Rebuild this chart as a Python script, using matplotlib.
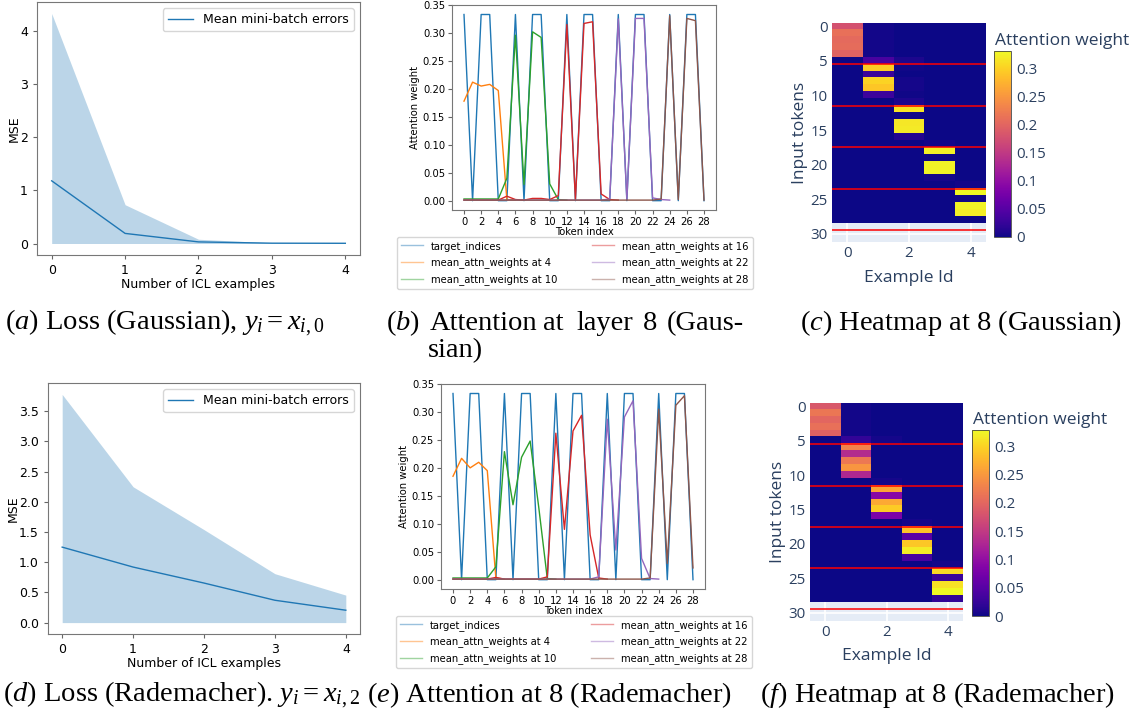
import matplotlib.pyplot as plt
import numpy as np

W, H = 1136, 714

plt.rcParams['mathtext.fontset'] = 'custom'
plt.rcParams['mathtext.rm'] = 'Liberation Serif'
plt.rcParams['mathtext.it'] = 'Liberation Serif:italic'

# ---- loss curves ----
n_icl = [0, 1, 2, 3, 4]
mean_gauss = [1.18, 0.19, 0.03, 0.006, 0.004]
upper_gauss = [4.33, 0.73, 0.08, 0.012, 0.010]
lower_gauss = [0.0, 0.0, 0.0, 0.0, 0.0]
mean_rade = [1.25, 0.92, 0.655, 0.37, 0.205]
upper_rade = [3.78, 2.25, 1.54, 0.81, 0.455]
lower_rade = [0.0, 0.0, 0.0, 0.0, 0.0]

# ---- attention weights (layer 8) ----
target_idx = [0.333, 0, 0.333, 0.333, 0, 0, 0.333, 0, 0.333, 0.333, 0, 0,
              0.333, 0, 0.333, 0.333, 0, 0, 0.333, 0, 0.333, 0.333, 0, 0,
              0.333, 0, 0.333, 0.333, 0]

g_at4 = [0.178, 0.212, 0.205, 0.208, 0.197, 0.002, 0.001]
g_at10 = [0.003, 0.003, 0.003, 0.003, 0.003, 0.040, 0.296, 0.029, 0.302, 0.292,
          0.030, 0.002, 0.001]
g_at16 = [0.001, 0.001, 0.001, 0.001, 0.001, 0.008, 0.002, 0.001, 0.004, 0.004,
          0.002, 0.009, 0.315, 0.002, 0.317, 0.320, 0.012, 0.002, 0.001]
g_at22 = [0.001, 0.001, 0.001, 0.001, 0.001, 0.001, 0.001, 0.001, 0.001, 0.001,
          0.001, 0.001, 0.001, 0.001, 0.001, 0.001, 0.001, 0.003, 0.325, 0.002,
          0.326, 0.326, 0.005, 0.002, 0.001]
g_at28 = [0.001, 0.001, 0.001, 0.001, 0.001, 0.001, 0.001, 0.001, 0.001, 0.001,
          0.001, 0.001, 0.001, 0.001, 0.001, 0.001, 0.001, 0.001, 0.001, 0.001,
          0.001, 0.001, 0.001, 0.003, 0.331, 0.002, 0.326, 0.322, 0.001]

r_at4 = [0.185, 0.217, 0.200, 0.210, 0.195, 0.003, 0.001]
r_at10 = [0.003, 0.003, 0.003, 0.003, 0.003, 0.023, 0.229, 0.134, 0.219, 0.248,
          0.130, 0.002, 0.001]
r_at16 = [0.001, 0.001, 0.001, 0.001, 0.001, 0.004, 0.001, 0.001, 0.001, 0.001,
          0.001, 0.005, 0.262, 0.090, 0.266, 0.294, 0.080, 0.003, 0.001]
r_at22 = [0.001, 0.001, 0.001, 0.001, 0.001, 0.001, 0.001, 0.001, 0.001, 0.001,
          0.001, 0.001, 0.001, 0.001, 0.001, 0.001, 0.001, 0.005, 0.287, 0.053,
          0.291, 0.320, 0.038, 0.002, 0.001]
r_at28 = [0.001, 0.001, 0.001, 0.001, 0.001, 0.001, 0.001, 0.001, 0.001, 0.001,
          0.001, 0.001, 0.001, 0.001, 0.001, 0.001, 0.001, 0.001, 0.001, 0.001,
          0.001, 0.001, 0.001, 0.003, 0.305, 0.029, 0.312, 0.329, 0.021]

query_pos = [4, 10, 16, 22, 28]
example_sep = [5.5, 11.5, 17.5, 23.5, 29.5]
line_labels = ['mean_attn_weights at 4', 'mean_attn_weights at 10',
               'mean_attn_weights at 16', 'mean_attn_weights at 22',
               'mean_attn_weights at 28']
attn_ticks = [0, 0.05, 0.1, 0.15, 0.2, 0.25, 0.3, 0.35]


def box(l, t, r, b):
    return [l / W, 1 - b / H, (r - l) / W, (b - t) / H]


def loss_panel(ax, mean, lo, hi, ylab_x, yticks=None):
    ax.fill_between(n_icl, lo, hi, color='C0', alpha=0.3, lw=0)
    ax.plot(n_icl, mean, color='C0', lw=1, label='Mean mini-batch errors')
    ax.set_xticks(n_icl)
    if yticks is not None:
        ax.set_yticks(yticks)
    ax.tick_params(labelsize=9, color='#666', length=3)
    for s in ax.spines.values():
        s.set_color('#777')
        s.set_linewidth(0.8)
    ax.set_xlabel('Number of ICL examples', fontsize=9, labelpad=1)
    ax.set_ylabel('MSE', fontsize=9)
    ax.yaxis.set_label_coords(ylab_x, 0.5)
    ax.legend(loc='upper right', fontsize=9)


def attn_panel(ax, lines, lx, ly):
    ax.plot(range(len(target_idx)), target_idx, lw=1, label='target_indices')
    for w, lab in zip(lines, line_labels):
        ax.plot(range(len(w)), w, lw=1, label=lab)
    ax.set_xticks(range(0, 29, 2))
    ax.set_yticks(attn_ticks)
    ax.set_ylim(-0.0167, 0.35)
    ax.tick_params(labelsize=7.2, color='#666', length=3, pad=2)
    for s in ax.spines.values():
        s.set_color('#777')
        s.set_linewidth(0.8)
    ax.set_xlabel('Token index', fontsize=7.2, labelpad=0)
    ax.set_ylabel('Attention weight', fontsize=7.2, labelpad=2)
    leg = ax.legend(loc='upper center', bbox_to_anchor=(lx, ly), ncol=2,
                    fontsize=7.2, handlelength=2.2, columnspacing=3.5,
                    borderaxespad=0, labelspacing=0.6)
    for h in leg.get_lines():
        h.set_alpha(0.45)


def heat_panel(ax, cax, lines, title_xy):
    grid = np.zeros((29, 5))
    for j, (w, q) in enumerate(zip(lines, query_pos)):
        grid[:q + 1, j] = w[:q + 1]
    ax.set_facecolor('#E5ECF6')
    ax.set_axisbelow(True)
    ax.grid(True, color='white', lw=1.2)
    im = ax.imshow(grid, cmap='plasma', aspect='auto', vmin=grid.min(),
                   vmax=grid.max(), extent=(-0.5, 4.5, 28.5, -0.5), zorder=2)
    for y in example_sep:
        ax.axhline(y, color='red', lw=1.1, zorder=3)
    ax.set_xlim(-0.5, 4.5)
    ax.set_ylim(31.2, -0.5)
    ax.set_xticks([0, 2, 4])
    ax.set_yticks([0, 5, 10, 15, 20, 25, 30])
    for s in ax.spines.values():
        s.set_visible(False)
    ax.tick_params(length=0, labelsize=10.8, labelcolor='#2a3f5f', pad=3)
    for t in ax.get_xticklabels() + ax.get_yticklabels():
        t.set_family('Open Sans')
    ax.set_xlabel('Example Id', fontsize=12.5, family='Open Sans',
                  color='#2a3f5f', labelpad=6)
    ax.set_ylabel('Input tokens', fontsize=12.5, family='Open Sans',
                  color='#2a3f5f', labelpad=2)
    cb = fig.colorbar(im, cax=cax)
    cb.set_ticks([0, 0.05, 0.1, 0.15, 0.2, 0.25, 0.3])
    cb.set_ticklabels(['0', '0.05', '0.1', '0.15', '0.2', '0.25', '0.3'])
    cb.ax.tick_params(length=0, labelsize=10.8, labelcolor='#2a3f5f', pad=4)
    for t in cb.ax.get_yticklabels():
        t.set_family('Open Sans')
    cb.outline.set_edgecolor('#444')
    cb.outline.set_linewidth(0.6)
    fig.text(title_xy[0] / W, 1 - title_xy[1] / H, 'Attention weight',
             fontsize=12.5, family='Open Sans', color='#2a3f5f', va='baseline')


fig = plt.figure(figsize=(W / 100, H / 100), dpi=100)

ax_a = fig.add_axes(box(37, 2, 360, 255))
loss_panel(ax_a, mean_gauss, lower_gauss, upper_gauss, -0.05)
ax_d = fig.add_axes(box(48, 383, 360, 634))
loss_panel(ax_d, mean_rade, lower_rade, upper_rade, -0.09,
           [0, 0.5, 1, 1.5, 2, 2.5, 3, 3.5])

ax_b = fig.add_axes(box(452, 5, 716, 210))
attn_panel(ax_b, [g_at4, g_at10, g_at16, g_at22, g_at28], 0.466, -0.13)
ax_e = fig.add_axes(box(441, 384, 705, 589))
attn_panel(ax_e, [r_at4, r_at10, r_at16, r_at22, r_at28], 0.504, -0.13)

ax_c = fig.add_axes(box(832, 23, 986, 242))
cax_c = fig.add_axes(box(994, 51, 1011, 237))
heat_panel(ax_c, cax_c, [g_at4, g_at10, g_at16, g_at22, g_at28], (995, 45))
ax_f = fig.add_axes(box(810, 403, 963, 621))
cax_f = fig.add_axes(box(972, 430, 989, 616))
heat_panel(ax_f, cax_f, [r_at4, r_at10, r_at16, r_at22, r_at28], (973, 424))

# captions
cap = dict(fontsize=20.5, family='Liberation Serif', va='baseline')
fig.text(5 / W, 1 - 330 / H, r'$(a)$ Loss (Gaussian), $y_i = x_{i,0}$', **cap)
b_words = [(386, r'$(b)$'), (430, 'Attention'), (543, 'at'), (576, 'layer'),
           (643, '8'), (667, '(Gaus-')]
for x, s in b_words:
    fig.text(x / W, 1 - 330 / H, s, **cap)
fig.text(428 / W, 1 - 357 / H, 'sian)', **cap)
fig.text(800 / W, 1 - 330 / H, r'$(c)$ Heatmap at 8 (Gaussian)', **cap)
fig.text(3 / W, 1 - 702 / H, r'$(d)$ Loss (Rademacher). $y_i = x_{i,2}$', **cap)
fig.text(367 / W, 1 - 702 / H, r'$(e)$ Attention at 8 (Rademacher)', **cap)
fig.text(760 / W, 1 - 702 / H, r'$(f)$ Heatmap at 8 (Rademacher)', **cap)

fig.savefig('out.png', dpi=100)
